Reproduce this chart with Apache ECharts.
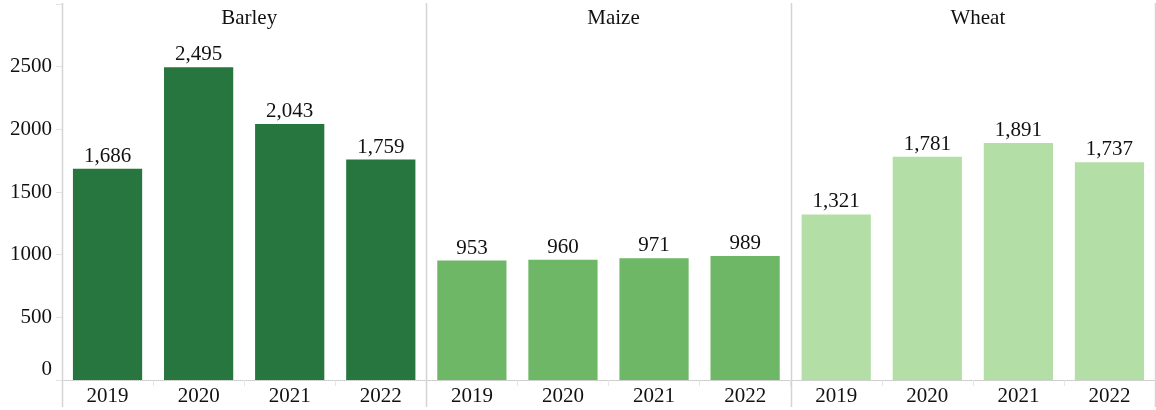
<!DOCTYPE html>
<html><head><meta charset="utf-8">
<script src="https://cdn.jsdelivr.net/npm/echarts@6/dist/echarts.min.js"></script>
<style>html,body{margin:0;padding:0;background:#fff}#c{width:1156px;height:410px}</style>
</head><body><div id="c"></div>
<script>
const panels = ['Barley', 'Maize', 'Wheat'];
const years = ['2019', '2020', '2021', '2022'];
const barley = [1686, 2495, 2043, 1759];
const maize = [953, 960, 971, 989];
const wheat = [1321, 1781, 1891, 1737];
const yTicks = [0, 500, 1000, 1500, 2000, 2500];
const colors = ['#27763f', '#6db766', '#b3dfa6'];
const values = [barley, maize, wheat];

const chart = echarts.init(document.getElementById('c'));
const L = 62, R = 1155, TOP = 4, BOT = 380;
const W = (R - L) / 3;
const font = '"Liberation Serif", "Times New Roman", serif';
const FS = 21;
const grids = [], xAxes = [], yAxes = [], series = [], titles = [], graphics = [];
for (let i = 0; i < 3; i++) {
  grids.push({left: L + i * W, width: W, top: TOP, height: BOT - TOP, containLabel: false});
  xAxes.push({
    type: 'category', gridIndex: i, data: years,
    axisLine: {show: true, lineStyle: {color: '#c8c8c8', type: 'dotted', width: 1}},
    axisTick: {show: true, length: 6, lineStyle: {color: '#e6e6e6'}},
    axisLabel: {fontFamily: font, fontSize: FS, color: '#111', margin: 6}
  });
  yAxes.push({
    type: 'value', gridIndex: i, min: 0, max: 3000, interval: 500,
    axisLine: {show: false},
    axisTick: {show: i === 0, length: 6, lineStyle: {color: '#e3e3e3'}},
    splitLine: {show: false},
    axisLabel: {
      show: i === 0, fontFamily: font, fontSize: FS, color: '#111', margin: 10,
      verticalAlignMinLabel: 'bottom',
      formatter: v => (yTicks.indexOf(v) >= 0 ? String(v) : '')
    }
  });
  series.push({
    type: 'bar', xAxisIndex: i, yAxisIndex: i, data: values[i],
    barCategoryGap: '24%',
    itemStyle: {color: colors[i]},
    label: {
      show: true, position: 'top', distance: 2, fontFamily: font, fontSize: FS, color: '#111',
      formatter: p => p.value.toLocaleString('en-US')
    }
  });
  titles.push({
    text: panels[i], left: L + i * W + W / 2, top: 3, textAlign: 'center',
    textStyle: {fontFamily: font, fontSize: FS, fontWeight: 'normal', color: '#111'}
  });
}
for (let i = 0; i <= 3; i++) {
  const x = Math.round(L + i * W) + 0.5;
  graphics.push({type: 'line', shape: {x1: x, y1: 3, x2: x, y2: 407},
    style: {stroke: '#d4d4d4', lineWidth: 1.5}, z: 10});
}
chart.setOption({
  animation: false,
  title: titles,
  grid: grids,
  xAxis: xAxes,
  yAxis: yAxes,
  series: series,
  graphic: graphics
});
</script></body></html>
